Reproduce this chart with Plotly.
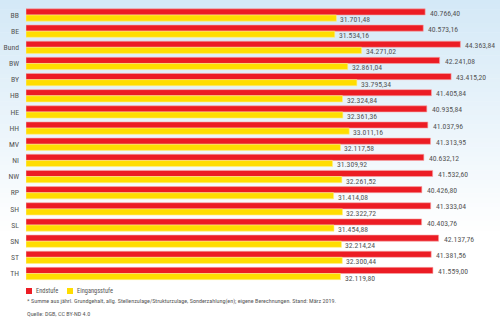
import plotly.graph_objects as go

categories = ["BB", "BE", "Bund", "BW", "BY", "HB", "HE", "HH", "MV", "NI",
              "NW", "RP", "SH", "SL", "SN", "ST", "TH"]
endstufe = [40766.40, 40573.16, 44363.84, 42241.08, 43415.20, 41405.84, 40935.84,
            41037.96, 41313.95, 40632.12, 41532.60, 40426.80, 41333.04, 40403.76,
            42137.76, 41381.56, 41559.00]
eingangsstufe = [31701.48, 31534.16, 34271.02, 32861.04, 33795.34, 32324.84, 32361.36,
                 33011.16, 32117.58, 31309.92, 32261.52, 31414.08, 32322.72, 31454.88,
                 32214.24, 32300.44, 32119.80]
series_names = ["Endstufe", "Eingangsstufe"]
footnote = ("* Summe aus jährl. Grundgehalt, allg. Stellenzulage/Strukturzulage, "
            "Sonderzahlung(en); eigene Berechnungen. Stand: März 2019.")
source = "Quelle: DGB, CC BY-ND 4.0"

RED = "#ec1c24"
YELLOW = "#ffdd00"
TXT = "#555555"
FONT = "Roboto Condensed, DejaVu Sans Condensed, sans-serif"


def de_fmt(v):
    s = f"{v:,.2f}"
    return s.replace(",", "X").replace(".", ",").replace("X", ".")


W, H = 500, 323
ML, MR, MT, MB = 26, 4, 4, 41

fig = go.Figure()
fig.add_trace(go.Bar(y=categories, x=endstufe, orientation="h", name=series_names[0],
                     marker=dict(color=RED, line=dict(color="#f7a8a8", width=0.6))))
fig.add_trace(go.Bar(y=categories, x=eingangsstufe, orientation="h", name=series_names[1],
                     marker=dict(color=YELLOW, line=dict(color="#ffee88", width=0.6))))

annotations = []
for c, e, g in zip(categories, endstufe, eingangsstufe):
    annotations.append(dict(x=e, y=c, xref="x", yref="y", text=de_fmt(e), showarrow=False,
                            xanchor="left", yanchor="middle", xshift=3, yshift=2,
                            font=dict(size=7.7, color=TXT, family=FONT)))
    annotations.append(dict(x=g, y=c, xref="x", yref="y", text=de_fmt(g), showarrow=False,
                            xanchor="left", yanchor="middle", xshift=2, yshift=-4.5,
                            font=dict(size=7.7, color=TXT, family=FONT)))

plot_w = W - ML - MR
plot_h = H - MT - MB


def px_x(px):
    return (px - ML) / plot_w


def px_y(py):
    return (H - MB - py) / plot_h


shapes = []
# background gradient (decorative), light blue at top fading to white
n = 50
top_c = (212, 233, 247)
fade_end = 230  # pixel row where it becomes white
for i in range(n):
    py0 = i * fade_end / n
    py1 = (i + 1) * fade_end / n
    t = (i + 0.5) / n
    r = int(top_c[0] + (255 - top_c[0]) * t)
    gg = int(top_c[1] + (255 - top_c[1]) * t)
    b = int(top_c[2] + (255 - top_c[2]) * t)
    shapes.append(dict(type="rect", xref="paper", yref="paper", x0=px_x(-2), x1=px_x(W + 2),
                       y0=px_y(py1 + 0.5), y1=px_y(py0 - (1 if i == 0 else 0)), layer="below",
                       line=dict(width=0), fillcolor=f"rgb({r},{gg},{b})"))

# manual legend
leg_y = 291
shapes.append(dict(type="rect", xref="paper", yref="paper", x0=px_x(26), x1=px_x(32),
                   y0=px_y(leg_y + 3), y1=px_y(leg_y - 3), fillcolor=RED, line=dict(width=0)))
shapes.append(dict(type="rect", xref="paper", yref="paper", x0=px_x(67), x1=px_x(73),
                   y0=px_y(leg_y + 3), y1=px_y(leg_y - 3), fillcolor=YELLOW, line=dict(width=0)))
annotations.append(dict(x=px_x(34), y=px_y(leg_y), xref="paper", yref="paper",
                        text=series_names[0], showarrow=False, xanchor="left", yanchor="middle",
                        font=dict(size=6.4, color=TXT, family=FONT)))
annotations.append(dict(x=px_x(75), y=px_y(leg_y), xref="paper", yref="paper",
                        text=series_names[1], showarrow=False, xanchor="left", yanchor="middle",
                        font=dict(size=6.4, color=TXT, family=FONT)))
annotations.append(dict(x=px_x(25), y=px_y(301), xref="paper", yref="paper",
                        text=footnote, showarrow=False, xanchor="left", yanchor="middle",
                        font=dict(size=6.1, color=TXT, family=FONT)))
annotations.append(dict(x=px_x(25), y=px_y(313), xref="paper", yref="paper",
                        text=source, showarrow=False, xanchor="left", yanchor="middle",
                        font=dict(size=6.1, color=TXT, family=FONT)))

fig.update_layout(
    width=W, height=H,
    margin=dict(l=ML, r=MR, t=MT, b=MB, pad=0, autoexpand=False),
    barmode="group", bargap=0.24, bargroupgap=0,
    showlegend=False,
    paper_bgcolor="white", plot_bgcolor="rgba(0,0,0,0)",
    xaxis=dict(range=[0, 48000], visible=False, fixedrange=True, automargin=False),
    yaxis=dict(autorange="reversed", showgrid=False, zeroline=False, showline=False,
               automargin=False, ticks="", ticklabelstandoff=6, fixedrange=True,
               tickfont=dict(size=7.7, color=TXT, family=FONT)),
    shapes=shapes, annotations=annotations,
)

fig.write_html("out.html", config={"displayModeBar": False})
